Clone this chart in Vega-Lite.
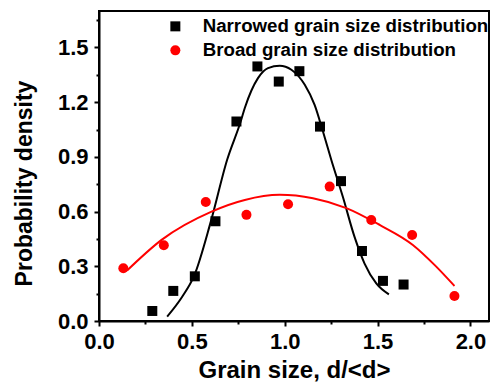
{
  "$schema": "https://vega.github.io/schema/vega-lite/v6.json",
  "autosize": {"type": "none"},
  "padding": {"left": 99, "top": 11, "right": 1, "bottom": 61},
  "width": 390,
  "height": 310,
  "background": "white",
  "config": {
    "font": "Liberation Sans",
    "view": {"stroke": "black", "strokeWidth": 2},
    "axis": {"grid": false, "domainColor": "black", "domainWidth": 2, "tickColor": "black", "tickWidth": 2, "labelColor": "black", "titleColor": "black", "labelFont": "Liberation Sans", "titleFont": "Liberation Sans", "labelFontWeight": "bold", "titleFontWeight": "bold", "labelFlush": false, "labelOverlap": false}
  },
  "datasets": {
    "points": [
      {"series": "Narrowed grain size distribution", "x": 0.287, "y": 0.055},
      {"series": "Narrowed grain size distribution", "x": 0.40, "y": 0.165},
      {"series": "Narrowed grain size distribution", "x": 0.516, "y": 0.245},
      {"series": "Narrowed grain size distribution", "x": 0.627, "y": 0.547},
      {"series": "Narrowed grain size distribution", "x": 0.74, "y": 1.094},
      {"series": "Narrowed grain size distribution", "x": 0.853, "y": 1.396},
      {"series": "Narrowed grain size distribution", "x": 0.968, "y": 1.313},
      {"series": "Narrowed grain size distribution", "x": 1.079, "y": 1.37},
      {"series": "Narrowed grain size distribution", "x": 1.19, "y": 1.066},
      {"series": "Narrowed grain size distribution", "x": 1.303, "y": 0.767},
      {"series": "Narrowed grain size distribution", "x": 1.416, "y": 0.384},
      {"series": "Narrowed grain size distribution", "x": 1.529, "y": 0.22},
      {"series": "Narrowed grain size distribution", "x": 1.64, "y": 0.20},
      {"series": "Broad grain size distribution", "x": 0.131, "y": 0.289},
      {"series": "Broad grain size distribution", "x": 0.349, "y": 0.415},
      {"series": "Broad grain size distribution", "x": 0.575, "y": 0.653},
      {"series": "Broad grain size distribution", "x": 0.794, "y": 0.582},
      {"series": "Broad grain size distribution", "x": 1.018, "y": 0.64},
      {"series": "Broad grain size distribution", "x": 1.242, "y": 0.737},
      {"series": "Broad grain size distribution", "x": 1.466, "y": 0.554},
      {"series": "Broad grain size distribution", "x": 1.686, "y": 0.472},
      {"series": "Broad grain size distribution", "x": 1.914, "y": 0.137}
    ],
    "narrowFit": [
      {"x": 0.367, "y": 0.024},
      {"x": 0.448, "y": 0.133},
      {"x": 0.512, "y": 0.247},
      {"x": 0.602, "y": 0.545},
      {"x": 0.690, "y": 0.884},
      {"x": 0.763, "y": 1.094},
      {"x": 0.785, "y": 1.168},
      {"x": 0.856, "y": 1.332},
      {"x": 0.910, "y": 1.387},
      {"x": 0.973, "y": 1.400},
      {"x": 1.036, "y": 1.378},
      {"x": 1.108, "y": 1.295},
      {"x": 1.161, "y": 1.185},
      {"x": 1.206, "y": 1.039},
      {"x": 1.251, "y": 0.883},
      {"x": 1.313, "y": 0.681},
      {"x": 1.376, "y": 0.461},
      {"x": 1.430, "y": 0.315},
      {"x": 1.493, "y": 0.206},
      {"x": 1.561, "y": 0.146}
    ],
    "broadFit": [
      {"x": 0.151, "y": 0.277},
      {"x": 0.337, "y": 0.445},
      {"x": 0.606, "y": 0.600},
      {"x": 0.785, "y": 0.664},
      {"x": 0.973, "y": 0.692},
      {"x": 1.152, "y": 0.673},
      {"x": 1.332, "y": 0.619},
      {"x": 1.511, "y": 0.527},
      {"x": 1.690, "y": 0.417},
      {"x": 1.816, "y": 0.298},
      {"x": 1.914, "y": 0.192}
    ]
  },
  "layer": [
    {
      "data": {"name": "narrowFit"},
      "mark": {"type": "line", "color": "black", "strokeWidth": 2, "interpolate": "monotone", "clip": true},
      "encoding": {
        "x": {"field": "x", "type": "quantitative", "scale": {"domain": [0, 2.1], "nice": false, "zero": false},
          "axis": {"orient": "bottom", "values": [0, 0.5, 1, 1.5, 2], "format": ".1f", "tickSize": 5, "labelFontSize": 22, "labelPadding": 5, "title": "Grain size, d/<d>", "titleFontSize": 24, "titlePadding": 6}},
        "y": {"field": "y", "type": "quantitative", "scale": {"domain": [0, 1.7], "nice": false},
          "axis": {"orient": "left", "values": [0, 0.3, 0.6, 0.9, 1.2, 1.5], "format": ".1f", "tickSize": 5, "labelFontSize": 22, "labelPadding": 6, "title": "Probability density", "titleFontSize": 23, "titlePadding": 21, "titleY": 172}}
      }
    },
    {
      "data": {"name": "broadFit"},
      "mark": {"type": "line", "color": "#ff0000", "strokeWidth": 2, "interpolate": "monotone", "clip": true},
      "encoding": {
        "x": {"field": "x", "type": "quantitative", "axis": null},
        "y": {"field": "y", "type": "quantitative", "axis": null}
      }
    },
    {
      "data": {"name": "points"},
      "mark": {"type": "point", "filled": true, "opacity": 1, "size": 100, "strokeWidth": 0},
      "encoding": {
        "x": {"field": "x", "type": "quantitative", "axis": {"orient": "bottom", "values": [0.25, 0.75, 1.25, 1.75], "tickSize": 3, "labels": false, "domain": false, "title": null}},
        "y": {"field": "y", "type": "quantitative", "axis": {"orient": "left", "values": [0.15, 0.45, 0.75, 1.05, 1.35, 1.65], "tickSize": 3, "labels": false, "domain": false, "title": null}},
        "color": {"field": "series", "type": "nominal", "sort": null,
          "scale": {"domain": ["Narrowed grain size distribution", "Broad grain size distribution"], "range": ["black", "#ff0000"]},
          "legend": {"title": null, "orient": "none", "legendX": 67, "legendY": 6, "labelFontSize": 18.7, "labelFont": "Liberation Sans", "labelFontWeight": "bold", "labelColor": "black", "labelLimit": 500, "symbolSize": 100, "labelOffset": 18, "rowPadding": 4, "padding": 0}},
        "shape": {"field": "series", "type": "nominal",
          "scale": {"domain": ["Narrowed grain size distribution", "Broad grain size distribution"], "range": ["square", "circle"]},
          "legend": {"title": null, "orient": "none", "legendX": 67, "legendY": 6, "labelFontSize": 18.7, "labelFont": "Liberation Sans", "labelFontWeight": "bold", "labelColor": "black", "labelLimit": 500, "symbolSize": 100, "labelOffset": 18, "rowPadding": 4, "padding": 0}}
      }
    }
  ],
  "resolve": {"axis": {"x": "independent", "y": "independent"}}
}
